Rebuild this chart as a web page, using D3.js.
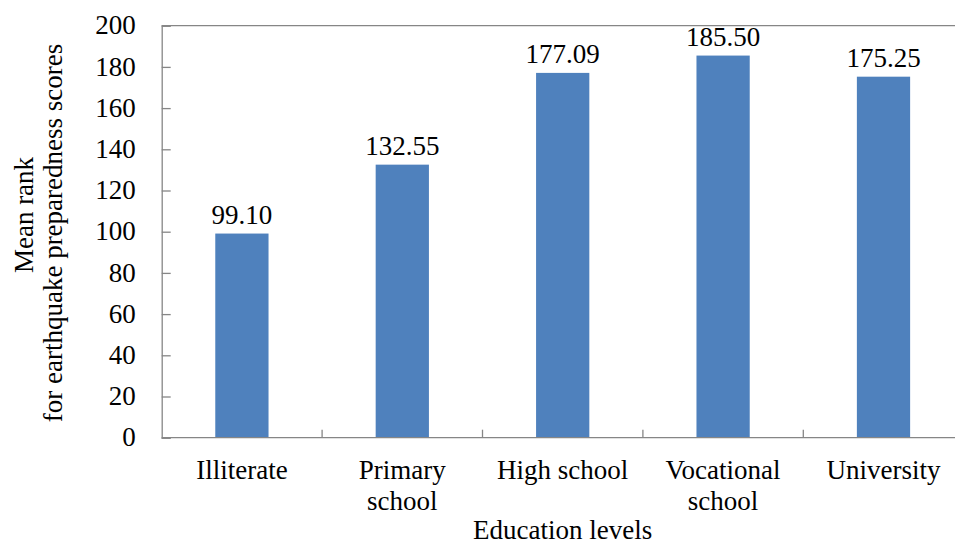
<!DOCTYPE html>
<html>
<head>
<meta charset="utf-8">
<script src="https://cdn.jsdelivr.net/npm/d3@7"></script>
<style>
	body { margin: 0; background: #fff; }
</style>
</head>
<body>
<svg></svg>
<script>
const categories = [
	['Illiterate'],
	['Primary', 'school'],
	['High school'],
	['Vocational', 'school'],
	['University']
];
const values = [99.10, 132.55, 177.09, 185.50, 175.25];
const valueLabels = ['99.10', '132.55', '177.09', '185.50', '175.25'];
const yTicks = [0, 20, 40, 60, 80, 100, 120, 140, 160, 180, 200];
const yTitle = ['Mean rank', 'for earthquake preparedness scores'];
const xTitle = 'Education levels';

const width = 955;
const height = 544;
const margin = {left: 161.7, right: -8.7, top: 25.7, bottom: 106.3};
const barColor = '#4f81bd';
const axisColor = '#868686';
const fontFamily = '"Liberation Serif", "Times New Roman", Tinos, "DejaVu Serif", serif';
const fontSize = 27;
const barRatio = 0.332;

var svg = d3.select('svg')
	.attr('width', width).attr('height', height)
	.style('font-family', fontFamily);

var x0 = margin.left;
var x1 = width - margin.right;
var y0 = height - margin.bottom;
var y1 = margin.top;

var xScale = d3.scaleBand()
	.domain(d3.range(categories.length))
	.range([x0, x1])
	.padding(0);

var yScale = d3.scaleLinear()
	.domain([0, 200])
	.range([y0, y1]);

// top border of the plot area
svg.append('line')
	.attr('x1', x0).attr('x2', x1)
	.attr('y1', y1).attr('y2', y1)
	.attr('stroke', axisColor).attr('stroke-width', 1.3);

// bars
var bw = xScale.bandwidth()*barRatio;
svg.append('g').selectAll('rect')
	.data(values).enter().append('rect')
	.attr('x', (d, i) => xScale(i) + xScale.bandwidth()/2 - bw/2)
	.attr('y', d => yScale(d))
	.attr('width', bw)
	.attr('height', d => y0 - yScale(d))
	.attr('fill', barColor);

// value labels
svg.append('g').selectAll('text')
	.data(values).enter().append('text')
	.attr('x', (d, i) => xScale(i) + xScale.bandwidth()/2)
	.attr('y', d => yScale(d) - 10)
	.attr('text-anchor', 'middle')
	.text((d, i) => valueLabels[i]);

// y axis
var yAxis = svg.append('g')
	.attr('transform', `translate(${x0},0)`)
	.call(d3.axisRight(yScale).tickValues(yTicks).tickSize(9).tickFormat(d3.format('d')));
yAxis.attr('font-family', null).attr('font-size', null);
yAxis.select('.domain').attr('stroke', axisColor).attr('stroke-width', 1.3);
yAxis.selectAll('.tick line').attr('stroke', axisColor).attr('stroke-width', 1.3);
yAxis.selectAll('.tick text')
	.attr('x', -26).attr('dy', '0.3em')
	.attr('text-anchor', 'end')
	.attr('fill', '#000');

// x axis: ticks at category boundaries, pointing inward
svg.append('line')
	.attr('x1', x0).attr('x2', x1)
	.attr('y1', y0).attr('y2', y0)
	.attr('stroke', axisColor).attr('stroke-width', 1.3);
svg.append('g').selectAll('line')
	.data(d3.range(1, categories.length)).enter().append('line')
	.attr('x1', i => xScale(i)).attr('x2', i => xScale(i))
	.attr('y1', y0).attr('y2', y0 - 8)
	.attr('stroke', axisColor).attr('stroke-width', 1.3);

var cat = svg.append('g').selectAll('text')
	.data(categories).enter().append('text')
	.attr('text-anchor', 'middle');
cat.selectAll('tspan')
	.data((d, i) => d.map(s => ({s: s, i: i})))
	.enter().append('tspan')
	.attr('x', d => xScale(d.i) + xScale.bandwidth()/2)
	.attr('y', (d, j) => 479 + j*31)
	.text(d => d.s);

// axis titles
svg.append('text')
	.attr('x', (x0 + x1)/2).attr('y', 539)
	.attr('text-anchor', 'middle')
	.text(xTitle);

svg.append('text')
	.attr('transform', 'translate(33,215) rotate(-90)')
	.attr('text-anchor', 'middle')
	.text(yTitle[0]);
svg.append('text')
	.attr('transform', 'translate(62,233) rotate(-90)')
	.attr('text-anchor', 'middle')
	.text(yTitle[1]);

svg.selectAll('text')
	.style('font-family', fontFamily)
	.style('font-size', fontSize + 'px')
	.style('fill', '#000');
</script>
</body>
</html>
